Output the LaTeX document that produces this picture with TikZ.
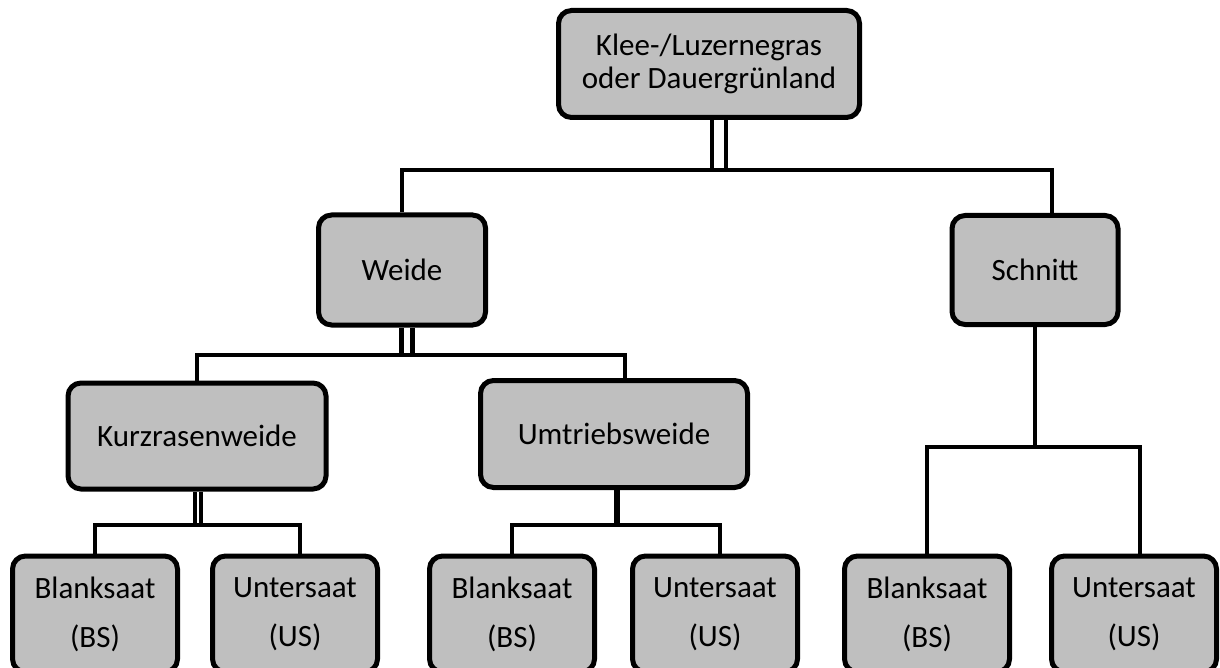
\documentclass[tikz,border=0pt]{standalone}
\usepackage{fontspec}
\setmainfont{Carlito}
\definecolor{boxgray}{HTML}{BFBFBF}
\tikzset{
  box/.style={draw,line width=5pt,rounded corners=13pt,fill=boxgray,align=center,
    font=\fontsize{31}{33}\selectfont},
  seed/.style={box,minimum width=165pt,minimum height=116pt,font=\fontsize{31}{49}\selectfont},
  link/.style={line width=4.5pt},
  dlink/.style={draw=black,double=white,line width=4.5pt,double distance=#1}
}

\begin{document}
\begin{tikzpicture}[x=1pt,y=-1pt]
\useasboundingbox (0,0) rectangle (1220,668);

\node[box,minimum width=301pt,minimum height=107pt] (klee) at (709,64) {Klee-/Luzernegras\\oder Dauergrünland};
\node[box,minimum width=167pt,minimum height=110pt] (weide) at (402,270) {Weide};
\node[box,minimum width=166pt,minimum height=109pt] (schnitt) at (1035,270) {Schnitt};
\node[box,minimum width=258pt,minimum height=106pt] (kurz) at (197,436) {Kurzrasenweide};
\node[box,minimum width=267pt,minimum height=107pt] (umtrieb) at (614,434) {Umtriebsweide};

\foreach \n/\x/\t/\a in {kbs/95/Blanksaat/BS, kus/295/Untersaat/US,
                         ubs/512/Blanksaat/BS, uus/715/Untersaat/US,
                         sbs/927/Blanksaat/BS, sus/1134/Untersaat/US}
  \node[seed] (\n) at (\x,614) {\t\\(\a)};

\coordinate (j1) at (719,170);
\coordinate (j2) at (407,355);
\coordinate (j3) at (198,525);
\coordinate (j4) at (617,525);
\coordinate (j5) at (1035,447);

\draw[dlink=9.5pt] ([xshift=10pt]klee.south) -- (j1);
\draw[link] (weide.north) |- (j1) -| ([xshift=17pt]schnitt.north);

\draw[dlink=6.5pt] ([xshift=5pt]weide.south) -- (j2);
\draw[link] (kurz.north) |- (j2) -| ([xshift=11pt]umtrieb.north);

\draw[dlink=1.5pt] ([xshift=1pt]kurz.south) -- (j3);
\draw[link] (kbs.north) |- (j3) -| ([xshift=5pt]kus.north);

\draw[line width=6pt] ([xshift=3pt]umtrieb.south) -- (j4);
\draw[link] (ubs.north) |- (j4) -| ([xshift=5pt]uus.north);

\draw[link] (schnitt.south) -- (j5);
\draw[link] (sbs.north) |- (j5) -| ([xshift=6pt]sus.north);
\end{tikzpicture}
\end{document}
